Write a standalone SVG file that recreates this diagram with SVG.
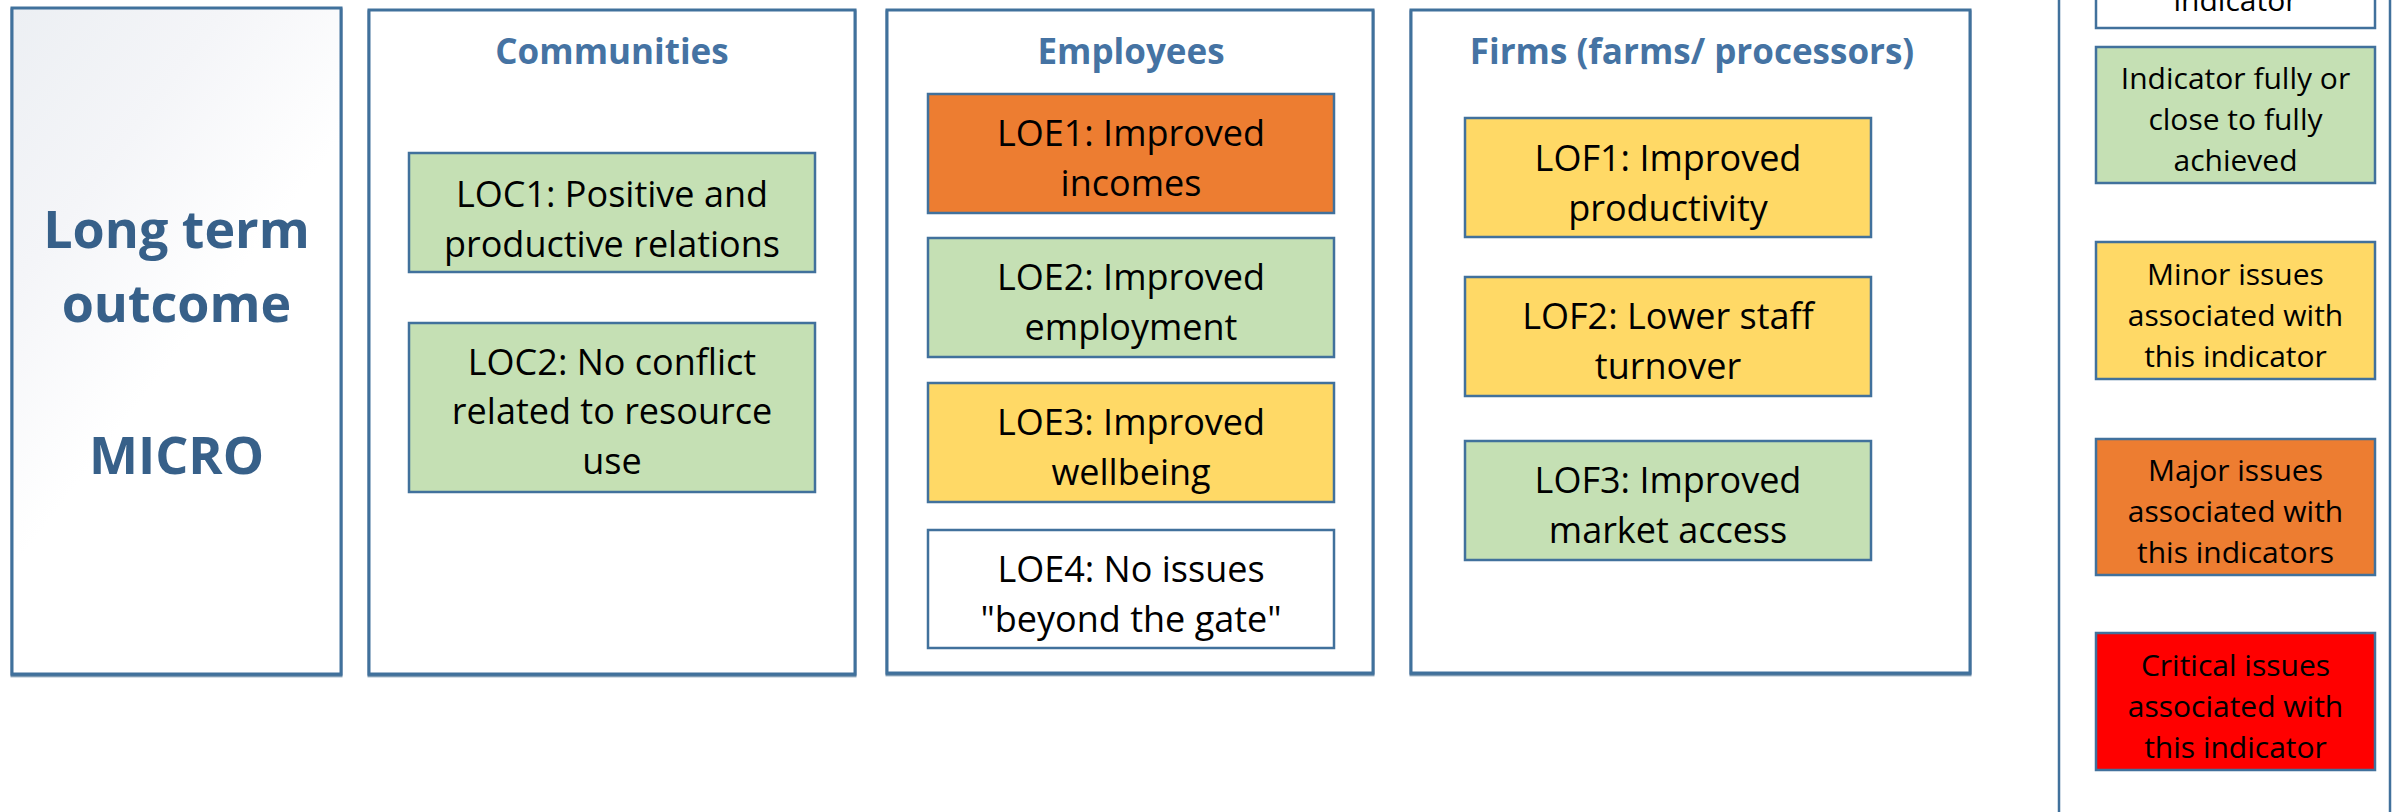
<svg xmlns="http://www.w3.org/2000/svg" width="2405" height="812" viewBox="0 0 2405 812">
  <defs>
    <linearGradient id="fadeGray" x1="0" y1="0" x2="0.55" y2="0.85">
      <stop offset="0" stop-color="#eceff3"/>
      <stop offset="0.35" stop-color="#f4f5f8"/>
      <stop offset="0.7" stop-color="#ffffff"/>
      <stop offset="1" stop-color="#ffffff"/>
    </linearGradient>
    <filter id="edge" x="-2%" y="-2%" width="104%" height="106%">
      <feDropShadow dx="0" dy="1.5" stdDeviation="0.4" flood-color="#36608a" flood-opacity="0.85"/>
    </filter>
  </defs>
  <style>
    .panel { fill: #ffffff; stroke: #41719c; stroke-width: 3; }
    .box { stroke: #41719c; stroke-width: 2.5; }
    .green { fill: #c5e0b4; }
    .yellow { fill: #ffd966; }
    .orange { fill: #ed7d31; }
    .red { fill: #ff0000; }
    .white { fill: #ffffff; }
    .title { font-family: "Open Sans", "Liberation Sans", sans-serif; font-weight: bold; font-size: 35px; fill: #4573a3; text-anchor: middle; }
    .big { font-family: "Open Sans", "Liberation Sans", sans-serif; font-weight: bold; font-size: 52px; fill: #376089; text-anchor: middle; }
    .label { font-family: "Open Sans", "Liberation Sans", sans-serif; font-size: 36px; fill: #000000; text-anchor: middle; }
    .key { font-family: "Open Sans", "Liberation Sans", sans-serif; font-size: 30px; fill: #000000; text-anchor: middle; }
  </style>

  <rect width="2405" height="812" fill="#ffffff"/>

  <!-- level heading -->
  <g id="long-term-outcome">
    <rect x="12" y="8" width="329" height="666" fill="url(#fadeGray)" stroke="#41719c" stroke-width="3" filter="url(#edge)"/>
    <text class="big" x="176.5" y="248">Long term</text>
    <text class="big" x="176.5" y="322">outcome</text>
    <text class="big" x="176.5" y="474">MICRO</text>
  </g>

  <!-- communities column -->
  <g id="communities">
    <rect class="panel" x="369" y="10" width="486" height="664" filter="url(#edge)"/>
    <text class="title" x="612" y="64">Communities</text>
  </g>
  <g id="loc1">
    <rect class="box green" x="409" y="153" width="406" height="119"/>
    <text class="label" x="612" y="207">LOC1: Positive and</text>
    <text class="label" x="612" y="257">productive relations</text>
  </g>
  <g id="loc2">
    <rect class="box green" x="409" y="323" width="406" height="169"/>
    <text class="label" x="612" y="375">LOC2: No conflict</text>
    <text class="label" x="612" y="424">related to resource</text>
    <text class="label" x="612" y="474">use</text>
  </g>

  <!-- employees column -->
  <g id="employees">
    <rect class="panel" x="887" y="10" width="486" height="663" filter="url(#edge)"/>
    <text class="title" x="1131" y="64">Employees</text>
  </g>
  <g id="loe1">
    <rect class="box orange" x="928" y="94" width="406" height="119"/>
    <text class="label" x="1131" y="146">LOE1: Improved</text>
    <text class="label" x="1131" y="196">incomes</text>
  </g>
  <g id="loe2">
    <rect class="box green" x="928" y="238" width="406" height="119"/>
    <text class="label" x="1131" y="290">LOE2: Improved</text>
    <text class="label" x="1131" y="340">employment</text>
  </g>
  <g id="loe3">
    <rect class="box yellow" x="928" y="383" width="406" height="119"/>
    <text class="label" x="1131" y="435">LOE3: Improved</text>
    <text class="label" x="1131" y="485">wellbeing</text>
  </g>
  <g id="loe4">
    <rect class="box white" x="928" y="530" width="406" height="118"/>
    <text class="label" x="1131" y="582">LOE4: No issues</text>
    <text class="label" x="1131" y="632">"beyond the gate"</text>
  </g>

  <!-- firms column -->
  <g id="firms">
    <rect class="panel" x="1411" y="10" width="559" height="663" filter="url(#edge)"/>
    <text class="title" x="1692" y="64">Firms (farms/ processors)</text>
  </g>
  <g id="lof1">
    <rect class="box yellow" x="1465" y="118" width="406" height="119"/>
    <text class="label" x="1668" y="171">LOF1: Improved</text>
    <text class="label" x="1668" y="221">productivity</text>
  </g>
  <g id="lof2">
    <rect class="box yellow" x="1465" y="277" width="406" height="119"/>
    <text class="label" x="1668" y="329">LOF2: Lower staff</text>
    <text class="label" x="1668" y="379">turnover</text>
  </g>
  <g id="lof3">
    <rect class="box green" x="1465" y="441" width="406" height="119"/>
    <text class="label" x="1668" y="493">LOF3: Improved</text>
    <text class="label" x="1668" y="543">market access</text>
  </g>

  <!-- colour key -->
  <g id="key">
    <rect x="2059" y="-40" width="331" height="900" fill="#ffffff" stroke="#41719c" stroke-width="2.5"/>
  </g>
  <g id="key-no-data">
    <rect class="box white" x="2096" y="-100" width="279" height="128"/>
    <text class="key" x="2235.5" y="10.5">indicator</text>
  </g>
  <g id="key-achieved">
    <rect class="box green" x="2096" y="47" width="279" height="136"/>
    <text class="key" x="2235.5" y="89">Indicator fully or</text>
    <text class="key" x="2235.5" y="130">close to fully</text>
    <text class="key" x="2235.5" y="171">achieved</text>
  </g>
  <g id="key-minor">
    <rect class="box yellow" x="2096" y="242" width="279" height="137"/>
    <text class="key" x="2235.5" y="285">Minor issues</text>
    <text class="key" x="2235.5" y="326">associated with</text>
    <text class="key" x="2235.5" y="367">this indicator</text>
  </g>
  <g id="key-major">
    <rect class="box orange" x="2096" y="439" width="279" height="136"/>
    <text class="key" x="2235.5" y="481">Major issues</text>
    <text class="key" x="2235.5" y="522">associated with</text>
    <text class="key" x="2235.5" y="563">this indicators</text>
  </g>
  <g id="key-critical">
    <rect class="box red" x="2096" y="633" width="279" height="137"/>
    <text class="key" x="2235.5" y="676">Critical issues</text>
    <text class="key" x="2235.5" y="717">associated with</text>
    <text class="key" x="2235.5" y="758">this indicator</text>
  </g>

  <!-- no connectors are drawn between the boxes -->
  <g id="connectors"/>
</svg>
